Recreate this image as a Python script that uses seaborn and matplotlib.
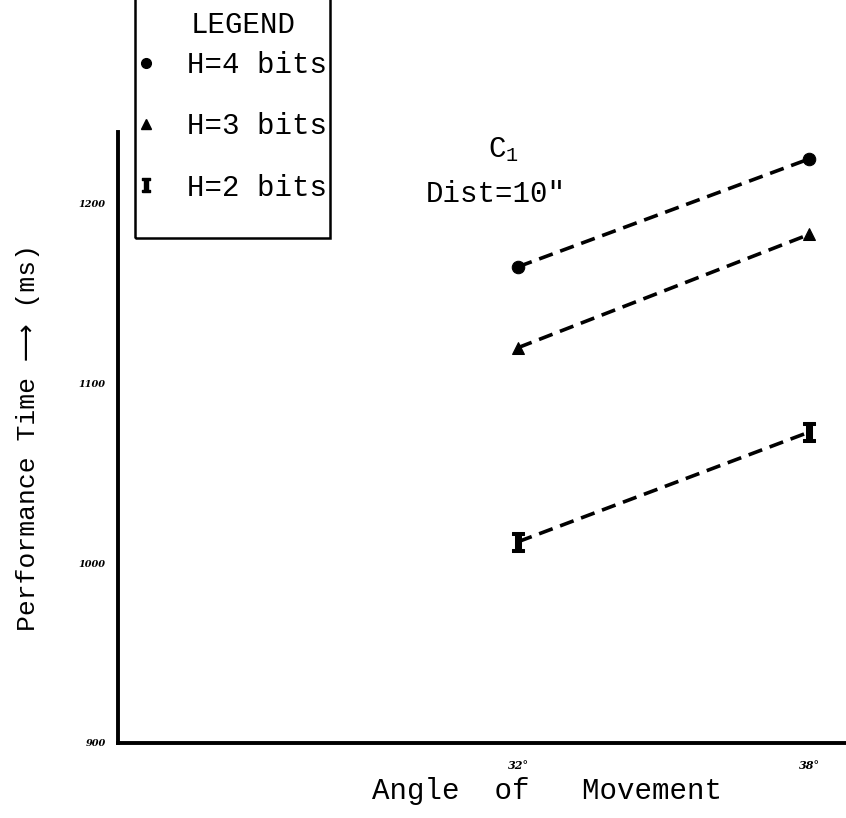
import matplotlib
matplotlib.use("Agg")
import matplotlib.pyplot as plt
from matplotlib.lines import Line2D
from matplotlib.patches import Rectangle
from matplotlib.path import Path
import seaborn as sns
import pandas as pd

# Performance time (ms) against angle of movement, by information load H
angles = [32, 38]
h4_bits = [1165, 1225]
h3_bits = [1120, 1183]
h2_bits = [1012, 1073]
series_names = ["H=4 bits", "H=3 bits", "H=2 bits"]
y_ticks = [900, 1000, 1100, 1200]
y_tick_labels = ["900", "1000", "1100", "1200"]
x_ticks = [32, 38]
x_tick_labels = ["32°", "38°"]

df = pd.DataFrame({
    "angle": angles * 3,
    "time": h4_bits + h3_bits + h2_bits,
    "H": [series_names[0]] * 2 + [series_names[1]] * 2 + [series_names[2]] * 2,
})

sns.set_theme(style="white")
mono = ["Liberation Mono", "DejaVu Sans"]
plt.rcParams["font.family"] = mono

W, H = 846, 818

# I-beam marker for the H=2 series
ibeam = Path([(-0.55, -1), (0.55, -1), (0.55, -0.7), (0.28, -0.7), (0.28, 0.7),
              (0.55, 0.7), (0.55, 1), (-0.55, 1), (-0.55, 0.7), (-0.28, 0.7),
              (-0.28, -0.7), (-0.55, -0.7), (-0.55, -1)])
marker_map = {series_names[0]: "o", series_names[1]: "^", series_names[2]: ibeam}

fig = plt.figure(figsize=(W / 100, H / 100), dpi=100)
ax = fig.add_axes([0.1395, 0.0917, 0.86, 0.747])

sns.lineplot(data=df, x="angle", y="time", hue="H", style="H",
             palette=["black"] * 3, markers=marker_map,
             dashes={n: (4, 2.2) for n in series_names},
             markersize=9, linewidth=2.6, markeredgecolor="black",
             legend=False, ax=ax)
# the I-beam glyph is drawn taller than the dot and triangle
for line in ax.lines:
    if isinstance(line.get_marker(), Path):
        line.set_markersize(15)

ax.set_xlim(23.75, 38.75)
ax.set_ylim(900, 1240)
ax.set_xticks(x_ticks)
ax.set_xticklabels(x_tick_labels, fontsize=8, fontweight="bold", fontstyle="italic",
                   family=["DejaVu Serif"])
ax.set_yticks(y_ticks)
ax.set_yticklabels(y_tick_labels, fontsize=7, fontweight="bold", fontstyle="italic",
                   family=["DejaVu Serif"])
ax.tick_params(axis="y", direction="out", length=7, width=2, color="black",
               labelcolor="black", pad=2)
ax.tick_params(axis="x", direction="inout", length=8, width=1.5, color="black",
               labelcolor="black", pad=8)

for side in ("top", "right"):
    ax.spines[side].set_visible(False)
for side in ("left", "bottom"):
    ax.spines[side].set_color("black")
    ax.spines[side].set_linewidth(2.8)

ax.set_xlabel("Angle  of   Movement", fontsize=21, color="black")
ax.xaxis.set_label_coords(0.59, -0.055)
ax.set_ylabel("Performance Time ⟶ (ms)", fontsize=19, color="black", labelpad=28)

# Condition annotation
fig.text(488 / W, 1 - 150 / H, "C$_\\mathregular{1}$", fontsize=21, color="black",
         ha="left", va="center")
fig.text(496 / W, 1 - 194 / H, 'Dist=10"', fontsize=21, color="black",
         ha="center", va="center")

# Legend: boxed key with a heading
fig.patches.append(Rectangle((135 / W, 1 - 238 / H), 195 / W, 240 / H,
                             transform=fig.transFigure, fill=False,
                             edgecolor="black", linewidth=1.8))
fig.text(243 / W, 1 - 25 / H, "LEGEND", fontsize=21, color="black",
         ha="center", va="center")
handles = [Line2D([], [], linestyle="none", marker=marker_map[n], color="black",
                  markersize=10 if n == series_names[2] else 7) for n in series_names]
fig.legend(handles, series_names, loc="upper left",
           bbox_to_anchor=(140 / W, 1 - 51 / H), frameon=False,
           fontsize=21, labelcolor="black", handlelength=0.4, handletextpad=1.2,
           labelspacing=1.14, borderpad=0, borderaxespad=0)

fig.savefig("out.png", dpi=100, facecolor="white")
